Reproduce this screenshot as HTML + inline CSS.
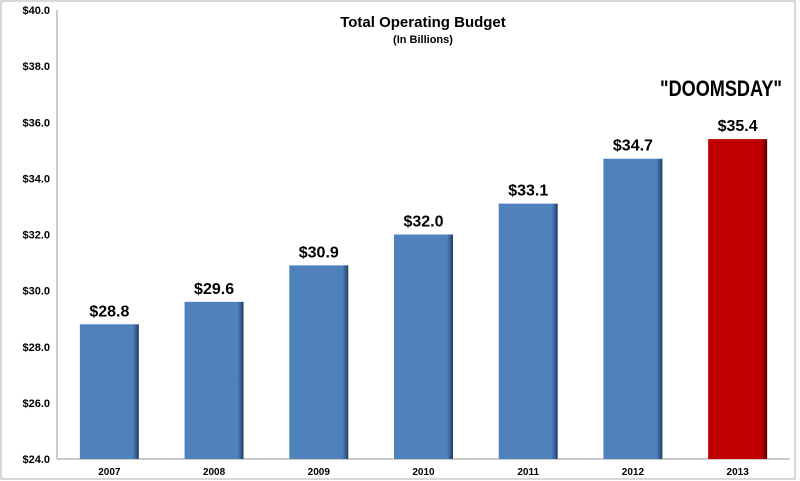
<!DOCTYPE html>
<html><head><meta charset="utf-8"><style>
body{margin:0;background:#fff;}
svg{display:block;font-family:"Liberation Sans",Arial,sans-serif;}
</style></head><body>
<svg id="chart" width="800" height="481">
<defs>
<linearGradient id="gb" x1="0" x2="1"><stop offset="0" stop-color="#4f81bd"/><stop offset="0.9" stop-color="#4f81bd"/><stop offset="1" stop-color="#1f3f66"/></linearGradient>
<linearGradient id="gr" x1="0" x2="1"><stop offset="0" stop-color="#c00000"/><stop offset="0.9" stop-color="#c00000"/><stop offset="1" stop-color="#5a0000"/></linearGradient>
</defs>
<rect x="1" y="1" width="794" height="478" fill="#fff" stroke="#b0b0b0"/>
<text x="423" y="27" text-anchor="middle" font-size="15" font-weight="bold">Total Operating Budget</text>
<text x="423" y="43" text-anchor="middle" font-size="11" font-weight="bold">(In Billions)</text>
<text x="660" y="96" font-size="22" font-weight="bold" textLength="122" lengthAdjust="spacingAndGlyphs">"DOOMSDAY"</text>
<g id="axes"></g><g id="bars"></g>
</svg>
<script>
const categories=["2007","2008","2009","2010","2011","2012","2013"];
const values=[28.8,29.6,30.9,32.0,33.1,34.7,35.4];
const labels=["$28.8","$29.6","$30.9","$32.0","$33.1","$34.7","$35.4"];
const ticks=[24,26,28,30,32,34,36,38,40];
const NS="http://www.w3.org/2000/svg";
const L=57,R=790,T=10,B=459,ymin=24,ymax=40;
const y=v=>B-(v-ymin)/(ymax-ymin)*(B-T);
const bw=(R-L)/categories.length;
const x=i=>L+bw*i;
function mk(t,a,p){const e=document.createElementNS(NS,t);for(const k in a)e.setAttribute(k,a[k]);p.appendChild(e);return e;}
const ax=document.getElementById('axes'),bg=document.getElementById('bars');
ticks.forEach(t=>{const e=mk('text',{x:50,y:y(t)+4,'text-anchor':'end','font-size':11,'font-weight':'bold'},ax);e.textContent='$'+t.toFixed(1);

});
const ya=mk('line',{x1:L,x2:L,y1:T,y2:B,stroke:'#999'},ax);


const xa=mk('line',{x1:L,x2:R,y1:B,y2:B,stroke:'#999'},ax);


categories.forEach((c,i)=>{
const cx=x(i)+bw/2,w=59;
const r=mk('rect',{x:cx-w/2,y:y(values[i]),width:w,height:B-y(values[i]),fill:i==categories.length-1?'url(#gr)':'url(#gb)'},bg);


const v=mk('text',{x:cx,y:y(values[i])-8,'text-anchor':'middle','font-size':16,'font-weight':'bold'},bg);v.textContent=labels[i];


const t=mk('text',{x:cx,y:475,'text-anchor':'middle','font-size':10,'font-weight':'bold'},ax);t.textContent=c;


});
</script>
</body></html>
